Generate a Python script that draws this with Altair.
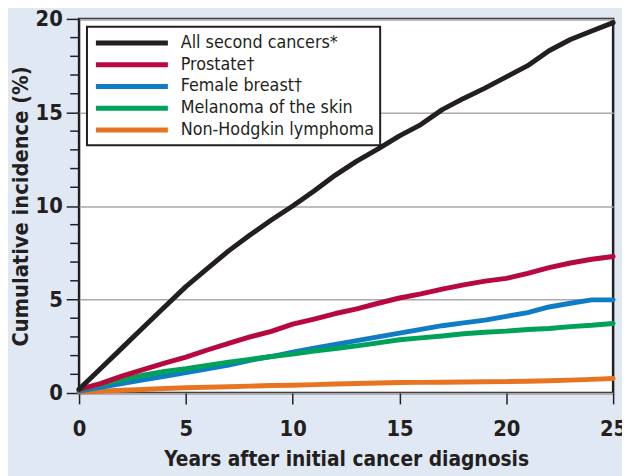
import altair as alt
import pandas as pd

# ---- data ----
years = [0, 1, 2, 3, 4, 5, 6, 7, 8, 9, 10, 11, 12, 13, 14, 15, 16, 17, 18, 19, 20, 21, 22, 23, 24, 25]

all_second = [0.2, 1.3, 2.4, 3.5, 4.6, 5.69, 6.65, 7.6, 8.45, 9.25, 10.0, 10.8, 11.65, 12.4, 13.05, 13.75,
              14.35, 15.15, 15.75, 16.3, 16.9, 17.5, 18.3, 18.9, 19.35, 19.8]
prostate = [0.2, 0.5, 0.9, 1.25, 1.6, 1.92, 2.3, 2.65, 3.0, 3.3, 3.68, 3.95, 4.25, 4.5, 4.8, 5.08,
            5.3, 5.55, 5.78, 5.98, 6.13, 6.4, 6.7, 6.95, 7.15, 7.3]
female_breast = [0.1, 0.3, 0.5, 0.7, 0.9, 1.09, 1.3, 1.5, 1.75, 1.95, 2.18, 2.4, 2.6, 2.8, 3.0, 3.2,
                 3.4, 3.6, 3.75, 3.9, 4.1, 4.3, 4.6, 4.8, 4.98, 4.98]
melanoma = [0.15, 0.45, 0.7, 0.95, 1.15, 1.3, 1.48, 1.65, 1.8, 1.95, 2.09, 2.25, 2.38, 2.52, 2.68, 2.85,
            2.95, 3.05, 3.17, 3.25, 3.31, 3.4, 3.45, 3.55, 3.62, 3.72]
nhl = [0.05, 0.1, 0.15, 0.19, 0.24, 0.28, 0.31, 0.34, 0.37, 0.4, 0.42, 0.45, 0.48, 0.51, 0.54, 0.56,
       0.57, 0.58, 0.59, 0.6, 0.61, 0.63, 0.66, 0.69, 0.73, 0.78]

series_names = ["All second cancers*", "Prostate\u2020", "Female breast\u2020",
                "Melanoma of the skin", "Non-Hodgkin lymphoma"]
series_colors = ["#231f20", "#b7093f", "#0f7cc5", "#00a25a", "#e87422"]

y_major = [0, 5, 10, 15, 20]
y_minor = [v for v in range(0, 21) if v % 5 != 0]
x_ticks = [0, 5, 10, 15, 20, 25]

# ---- build table (draw order: orange, blue, green, red, black on top) ----
draw_order = [
    ("Non-Hodgkin lymphoma", nhl),
    ("Female breast\u2020", female_breast),
    ("Melanoma of the skin", melanoma),
    ("Prostate\u2020", prostate),
    ("All second cancers*", all_second),
]
rows = []
for k, (name, vals) in enumerate(draw_order):
    for yr, v in zip(years, vals):
        rows.append({"year": yr, "value": v, "series": name, "k": k})
df = pd.DataFrame(rows)
minor_df = pd.DataFrame({"v": y_minor})

FONT = "DejaVu Sans Condensed, Liberation Sans Narrow, sans-serif"
INK = "#231f20"

y_scale = alt.Scale(domain=[0, 20], nice=False)

legend = alt.Legend(
    title=None, orient="none", legendX=8, legendY=8,
    symbolType="M-4.21,0H4.21", symbolSize=300, symbolStrokeWidth=5,
    symbolOffset=29, labelOffset=38, labelLimit=400,
    labelFontSize=18, labelFont=FONT, labelColor=INK,
    strokeColor=INK, fillColor="white", padding=5, rowPadding=0,
)

lines = alt.Chart(df).mark_line(strokeWidth=5, strokeCap="round", strokeJoin="round").encode(
    x=alt.X("year:Q", scale=alt.Scale(domain=[0, 25], nice=False),
            axis=alt.Axis(values=x_ticks, title="Years after initial cancer diagnosis",
                          grid=False, domain=False, tickSize=11, tickWidth=1.5, tickColor=INK,
                          labelFontSize=22, labelFontWeight="bold", labelFont=FONT,
                          labelColor=INK, labelPadding=15, labelFlush=False,
                          titleFontSize=21, titleFontWeight="bold", titleFont=FONT,
                          titleColor=INK, titlePadding=9)),
    y=alt.Y("value:Q", scale=y_scale,
            axis=alt.Axis(values=y_major, title="Cumulative incidence (%)",
                          grid=True, gridColor="#a9a9a9", gridWidth=1.5,
                          domain=False, tickSize=13, tickWidth=1.5, tickColor=INK,
                          labelFontSize=22, labelFontWeight="bold", labelFont=FONT,
                          labelColor=INK, labelPadding=4,
                          titleFontSize=22, titleFontWeight="bold", titleFont=FONT,
                          titleColor=INK, titlePadding=3)),
    color=alt.Color("series:N",
                    scale=alt.Scale(domain=series_names, range=series_colors),
                    legend=legend),
    detail="k:O",
    order="year:Q",
)

minor_ticks = alt.Chart(minor_df).mark_rule(color=INK, strokeWidth=1.5).encode(
    y=alt.Y("v:Q", scale=y_scale),
    x=alt.value(-9),
    x2=alt.value(0),
)

chart = alt.layer(minor_ticks, lines).properties(
    width=541, height=379,
    autosize=alt.AutoSizeParams(type="none"),
    padding={"left": 72, "top": 8, "right": 9, "bottom": 81},
    background="#e0e8f4",
).configure_view(
    stroke=INK, strokeWidth=2.5, fill="white"
).configure_legend(
    strokeWidth=2
)

chart.save("out.html", embed_options={"renderer": "svg", "actions": False})
